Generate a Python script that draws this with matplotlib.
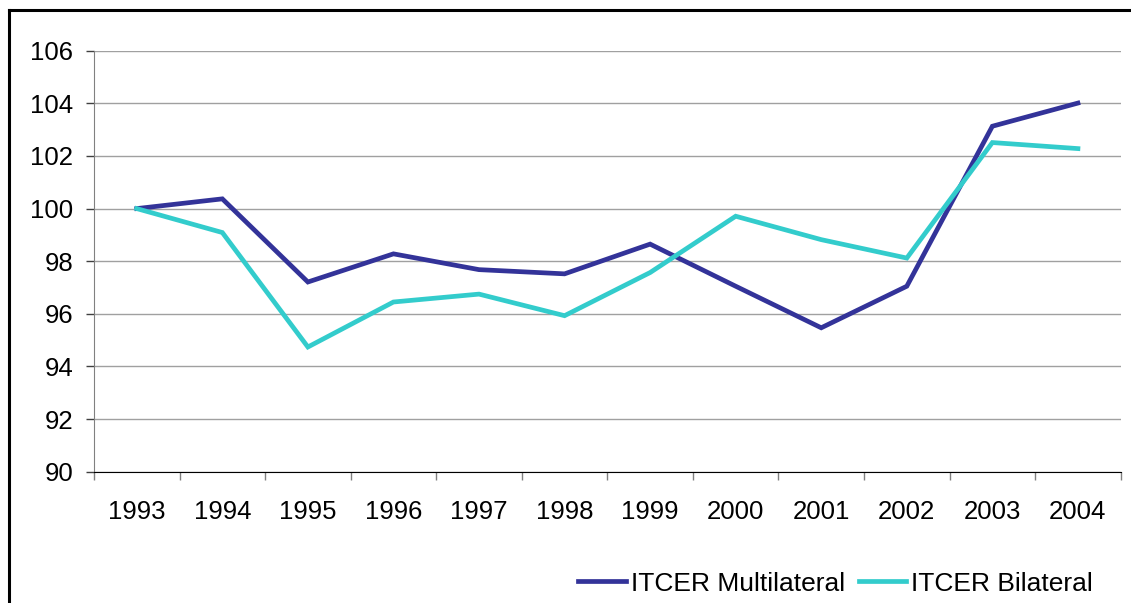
import matplotlib.pyplot as plt
from matplotlib.lines import Line2D

plt.rcParams['font.family'] = ['Liberation Sans', 'DejaVu Sans']

anios = ['1993', '1994', '1995', '1996', '1997', '1998',
         '1999', '2000', '2001', '2002', '2003', '2004']
multilateral = [100.0, 100.37, 97.21, 98.28, 97.68, 97.52,
                98.65, 97.05, 95.47, 97.05, 103.13, 104.01]
bilateral = [100.0, 99.09, 94.74, 96.45, 96.75, 95.93,
             97.57, 99.71, 98.82, 98.12, 102.51, 102.28]
y_ticks = [90, 92, 94, 96, 98, 100, 102, 104, 106]

fig = plt.figure(figsize=(11.31, 6.03), dpi=100)
ax = fig.add_axes([0.0831, 0.2177, 0.9078, 0.6982])

x = list(range(len(anios)))
ax.plot(x, multilateral, color='#333399', lw=3.4, label='ITCER Multilateral',
        solid_joinstyle='miter', zorder=3)
ax.plot(x, bilateral, color='#33CCCC', lw=3.4, label='ITCER Bilateral',
        solid_joinstyle='miter', zorder=3)

ax.set_xlim(-0.5, len(anios) - 0.5)
ax.set_ylim(90, 106)
ax.set_yticks(y_ticks)
ax.set_xticks(x)
ax.set_xticklabels(anios)
ax.set_xticks([i - 0.5 for i in range(len(anios) + 1)], minor=True)

# grilla horizontal
ax.yaxis.grid(True, color='#A0A0A0', lw=1)
ax.set_axisbelow(True)

for s in ['top', 'right']:
    ax.spines[s].set_visible(False)
ax.spines['left'].set_color('#808080')
ax.spines['bottom'].set_color('black')

ax.tick_params(axis='y', direction='out', length=6, width=1, color='#404040',
               pad=9, labelsize=18.5)
ax.tick_params(axis='x', which='major', length=0, pad=20, labelsize=18.5)
ax.tick_params(axis='x', which='minor', direction='out', length=6, width=1,
               color='#808080')

leg = fig.legend(loc='center', bbox_to_anchor=(0.739, 0.032), ncol=2,
                 frameon=False, fontsize=19, handlelength=1.8,
                 handletextpad=0.2, columnspacing=0.5)

# marco de la figura (cortado abajo y a la derecha)
x0 = 9 / 1131
y0 = 1 - 9.5 / 603
fig.add_artist(Line2D([x0, x0], [0, y0], color='black', lw=2.2))
fig.add_artist(Line2D([x0, 1], [y0, y0], color='black', lw=2.2))

fig.savefig('out.png', dpi=100)
